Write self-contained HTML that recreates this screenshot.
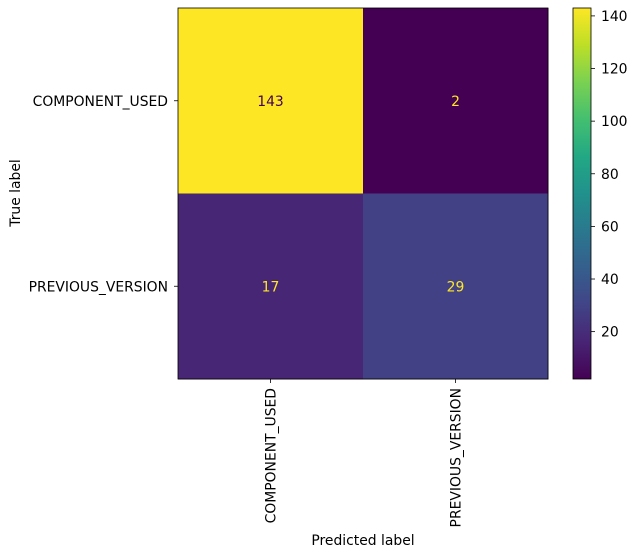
<!DOCTYPE html>
<html><head><meta charset="utf-8"><style>
body{margin:0;background:#fff;}
svg{display:block;font-family:"DejaVu Sans","Liberation Sans",sans-serif;}
</style></head><body>
<svg id="chart" width="637" height="557" viewBox="0 0 637 557" xmlns="http://www.w3.org/2000/svg">
<defs>
<linearGradient id="viridis" x1="0" y1="1" x2="0" y2="0">
<stop offset="0" stop-color="#440154"/><stop offset="0.1" stop-color="#482475"/>
<stop offset="0.2" stop-color="#414487"/><stop offset="0.3" stop-color="#355f8d"/>
<stop offset="0.4" stop-color="#2a788e"/><stop offset="0.5" stop-color="#21918c"/>
<stop offset="0.6" stop-color="#22a884"/><stop offset="0.7" stop-color="#44bf70"/>
<stop offset="0.8" stop-color="#7ad151"/><stop offset="0.9" stop-color="#bddf26"/>
<stop offset="1" stop-color="#fde725"/>
</linearGradient>
</defs>
<g id="cells"></g>
<rect x="178" y="8" width="370" height="371" fill="none" stroke="#000" stroke-width="0.8"/>
<g id="axes"></g>
<rect x="573" y="8" width="18" height="371" fill="url(#viridis)" stroke="#000" stroke-width="0.8"/>
<g id="cbticks"></g>
<text transform="translate(20,193) rotate(-90)" text-anchor="middle" font-size="13.9">True label</text>
<text x="363" y="545" text-anchor="middle" font-size="13.9">Predicted label</text>
</svg>
<script>
const classes = ["COMPONENT_USED","PREVIOUS_VERSION"];
const matrix = [[143,2],[17,29]];
const cbTicks = [20,40,60,80,100,120,140];
const vmin = 2, vmax = 143;

const NS="http://www.w3.org/2000/svg";
const X0=178,Y0=8,W=370,H=371,CBX=573,CBW=18;
const cw=W/classes.length, ch=H/classes.length;
const stops=["#440154","#482475","#414487","#355f8d","#2a788e","#21918c","#22a884","#44bf70","#7ad151","#bddf26","#fde725"];
function hx(c){return [1,3,5].map(i=>parseInt(c.substr(i,2),16));}
function viridis(t){t=Math.max(0,Math.min(1,t));const f=t*10,i=Math.min(9,Math.floor(f)),r=f-i;const a=hx(stops[i]),b=hx(stops[i+1]);return "rgb("+a.map((v,k)=>Math.round(v+(b[k]-v)*r)).join(",")+")";}
function el(tag,attrs,parent){const e=document.createElementNS(NS,tag);for(const k in attrs)e.setAttribute(k,attrs[k]);parent.appendChild(e);return e;}
const cells=document.getElementById("cells"),axes=document.getElementById("axes"),cb=document.getElementById("cbticks");
for(let i=0;i<classes.length;i++)for(let j=0;j<classes.length;j++){
  const v=matrix[i][j],t=(v-vmin)/(vmax-vmin);
  const r=el("rect",{x:X0+j*cw,y:Y0+i*ch,width:cw+0.5,height:ch+0.5,fill:viridis(t)},cells);
  
  
  const tx=el("text",{x:X0+(j+0.5)*cw,y:Y0+(i+0.5)*ch+5,"text-anchor":"middle","font-size":"13.9",fill:t>0.5?"#440154":"#fde725"},cells);
  tx.textContent=v;
  
  
}
classes.forEach((c,k)=>{
  const yc=Y0+(k+0.5)*ch;
  el("line",{x1:X0-4,x2:X0,y1:yc,y2:yc,stroke:"#000","stroke-width":0.8},axes);
  const ty=el("text",{x:X0-10,y:yc+5,"text-anchor":"end","font-size":"13.9"},axes);
  ty.textContent=c;
  
  
  const xc=X0+(k+0.5)*cw;
  el("line",{x1:xc,x2:xc,y1:Y0+H,y2:Y0+H+4,stroke:"#000","stroke-width":0.8},axes);
  const tx=el("text",{transform:`translate(${xc+5},${Y0+H+9}) rotate(-90)`,"text-anchor":"end","font-size":"13.9"},axes);
  tx.textContent=c;
  
  
});
cbTicks.forEach(v=>{
  const y=Y0+H-(v-vmin)/(vmax-vmin)*H;
  el("line",{x1:CBX+CBW,x2:CBX+CBW+4,y1:y,y2:y,stroke:"#000","stroke-width":0.8},cb);
  const t=el("text",{x:CBX+CBW+10,y:y+5,"font-size":"13.9"},cb);
  t.textContent=v;
  
  
});
</script>
</body></html>
